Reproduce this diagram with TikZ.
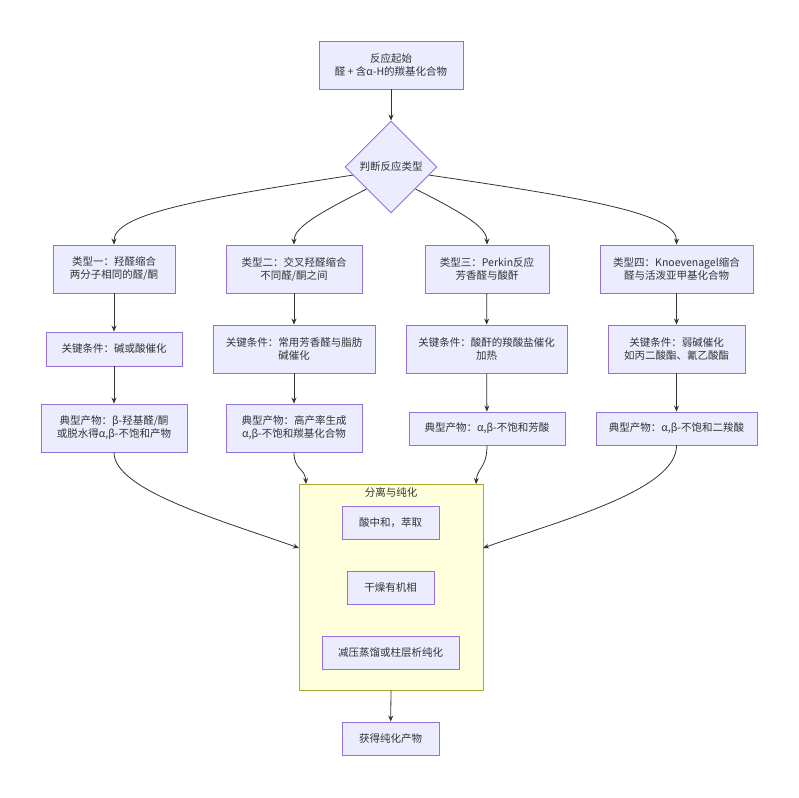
\documentclass[tikz,border=0pt]{standalone}
\usepackage{fontspec}
\setmainfont{Noto Sans CJK SC}
\usetikzlibrary{shapes.geometric,arrows.meta}
\definecolor{nodefill}{HTML}{ECECFF}
\definecolor{nodeline}{HTML}{9370DB}
\definecolor{clfill}{HTML}{FFFFDE}
\definecolor{clline}{HTML}{AAAA33}
\definecolor{txt}{HTML}{333333}
\definecolor{edge}{HTML}{333333}
\tikzset{
  box/.style={draw=nodeline, fill=nodefill, line width=0.9pt, rectangle, inner sep=0pt,
    align=center, text=txt, font=\fontsize{10.5}{13}\selectfont},
  dia/.style={draw=nodeline, fill=nodefill, line width=0.9pt, diamond, inner sep=0pt,
    minimum width=92pt, minimum height=92pt, text=txt, font=\fontsize{10.5}{13}\selectfont},
  cluster/.style={draw=clline, fill=clfill, line width=0.9pt, rectangle, inner sep=0pt},
  conn/.style={draw=edge, line width=0.8pt, -{Stealth[length=6pt,width=5pt]}},
}
\begin{document}
\begin{tikzpicture}[x=1pt,y=-1pt]
\useasboundingbox (0,0) rectangle (799,797);
% helper: box centred at (cx,cy) with width w, height h
\newcommand{\mybox}[6]{\node[box, minimum width=#4pt, minimum height=#5pt] (#1) at (#2,#3) {#6};}

\mybox{start}{391}{65}{144}{48}{反应起始\\醛 + 含α-H的羰基化合物}
\node[dia] (d) at (391,167) {判断反应类型};

\mybox{t1}{114}{269}{122}{48}{类型一：羟醛缩合\\两分子相同的醛/酮}
\mybox{t2}{294}{269}{136}{48}{类型二：交叉羟醛缩合\\不同醛/酮之间}
\mybox{t3}{487}{269}{124}{48}{类型三：Perkin反应\\芳香醛与酸酐}
\mybox{t4}{676.5}{269}{153}{48}{类型四：Knoevenagel缩合\\醛与活泼亚甲基化合物}

\mybox{k1}{114}{349}{136}{34}{关键条件：碱或酸催化}
\mybox{k2}{294}{349}{162}{48}{关键条件：常用芳香醛与脂肪\\碱催化}
\mybox{k3}{486.5}{349}{161}{48}{关键条件：酸酐的羧酸盐催化\\加热}
\mybox{k4}{676.5}{349}{137}{48}{关键条件：弱碱催化\\如丙二酸酯、氰乙酸酯}

\mybox{p1}{114}{428}{146}{48}{典型产物：β-羟基醛/酮\\或脱水得α,β-不饱和产物}
\mybox{p2}{294}{428}{136}{48}{典型产物：高产率生成\\α,β-不饱和羰基化合物}
\mybox{p3}{487}{428.5}{156}{33}{典型产物：α,β-不饱和芳酸}
\mybox{p4}{676.5}{428.5}{161}{33}{典型产物：α,β-不饱和二羧酸}

\node[cluster, minimum width=184pt, minimum height=206pt] (cl) at (391,587) {};
\node[text=txt, font=\fontsize{10.5}{13}\selectfont] (cltitle) at (391,492) {分离与纯化};
\mybox{s1}{390.5}{522.5}{97}{33}{酸中和，萃取}
\mybox{s2}{390.5}{587.5}{87}{33}{干燥有机相}
\mybox{s3}{390.5}{652.5}{137}{33}{减压蒸馏或柱层析纯化}

\mybox{fin}{390.5}{738.5}{97}{33}{获得纯化产物}

% connectors
\draw[conn] (start) -- (d);
\draw[conn] (d.192) .. controls (190,200) and (114,215) .. (t1.north);
\draw[conn] (d.222) .. controls (315,215) and (294,228) .. (t2.north);
\draw[conn] (d.318) .. controls (467,215) and (487,228) .. (t3.north);
\draw[conn] (d.348) .. controls (600,200) and (677,215) .. (t4.north);

\draw[conn] (t1) -- (k1);
\draw[conn] (t2) -- (k2);
\draw[conn] (t3) -- (k3);
\draw[conn] (t4) -- (k4);

\draw[conn] (k1) -- (p1);
\draw[conn] (k2) -- (p2);
\draw[conn] (k3) -- (p3);
\draw[conn] (k4) -- (p4);

\coordinate (inL) at (299,548);
\coordinate (inR) at (483,548);
\coordinate (inTL) at (306,484);
\coordinate (inTR) at (476,484);
\draw[conn] (p1.south) .. controls (114,490) and (220,520) .. (inL);
\draw[conn] (p2.south) .. controls (294,470) and (305,468) .. (inTL);
\draw[conn] (p3.south) .. controls (487,468) and (477,468) .. (inTR);
\draw[conn] (p4.south) .. controls (677,490) and (562,520) .. (inR);

\draw[conn] (cl.south) -- (fin);
\end{tikzpicture}
\end{document}
